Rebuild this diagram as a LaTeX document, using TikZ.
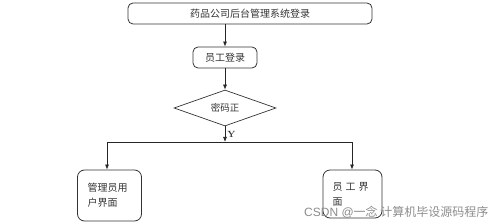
\documentclass[tikz,border=0pt]{standalone}
\usepackage{fontspec}
\newfontfamily\cjk{Noto Sans CJK SC}
\newfontfamily\wmfont{Liberation Sans}
\usetikzlibrary{shapes.geometric,arrows.meta}
\begin{document}
\begin{tikzpicture}[x=1pt,y=-1pt,
  every node/.style={font=\cjk\fontsize{10}{15}\selectfont, text=black!80},
  box/.style={draw=black!80, line width=0.8pt, rounded corners=5pt, inner sep=0pt},
  bigbox/.style={draw=black!80, line width=0.8pt, rounded corners=7pt, inner sep=0pt, text width=46pt, align=left},
  dec/.style={draw=black!80, line width=0.7pt, diamond, inner sep=0pt, minimum width=102pt, minimum height=36pt, aspect=2.8},
  conn/.style={draw=black!85, line width=0.7pt},
  arr/.style={conn, -{Latex[length=5pt,width=4pt]}}]
\useasboundingbox (0,0) rectangle (500,224);
\node[box, minimum width=244pt, minimum height=21pt] (top) at (250,13.5) {药品公司后台管理系统登录};
\node[box, minimum width=64pt, minimum height=21pt] (emp) at (225,57.5) {员工登录};
\node[dec, font=\cjk\fontsize{9.5}{12}\selectfont] (chk) at (225,108) {密码正};
\coordinate (J) at (225,142);
\coordinate (L) at (107,142);
\coordinate (R) at (352,142);
\node[bigbox, minimum width=64pt, minimum height=51pt, text width=44pt] (adm) at (109.5,195.5) {管理员用\\户界面};
\node[bigbox, minimum width=59pt, minimum height=48pt, text width=40pt] (stf) at (352.5,194) {员\hspace{3pt}工\hspace{3pt}界\\面};
\draw[arr] (top.south -| emp) -- (emp.north);
\draw[arr] (emp.south) -- (chk.north);
\draw[arr] (chk.south) -- node[right, pos=0.5, inner sep=2pt, font=\fontsize{9}{10}\selectfont\bfseries] (ylab) {Y} (J);
\draw[conn] (L) -- (R);
\draw[arr] (L) -- (L |- adm.north);
\draw[arr] (R) -- (R |- stf.north);
\node[font=\wmfont\fontsize{12}{14}\selectfont, text=black!45, anchor=west, inner sep=0pt] (wm) at (304,212) {CSDN @\cjk 一念 计算机毕设源码程序};
\end{tikzpicture}
\end{document}
